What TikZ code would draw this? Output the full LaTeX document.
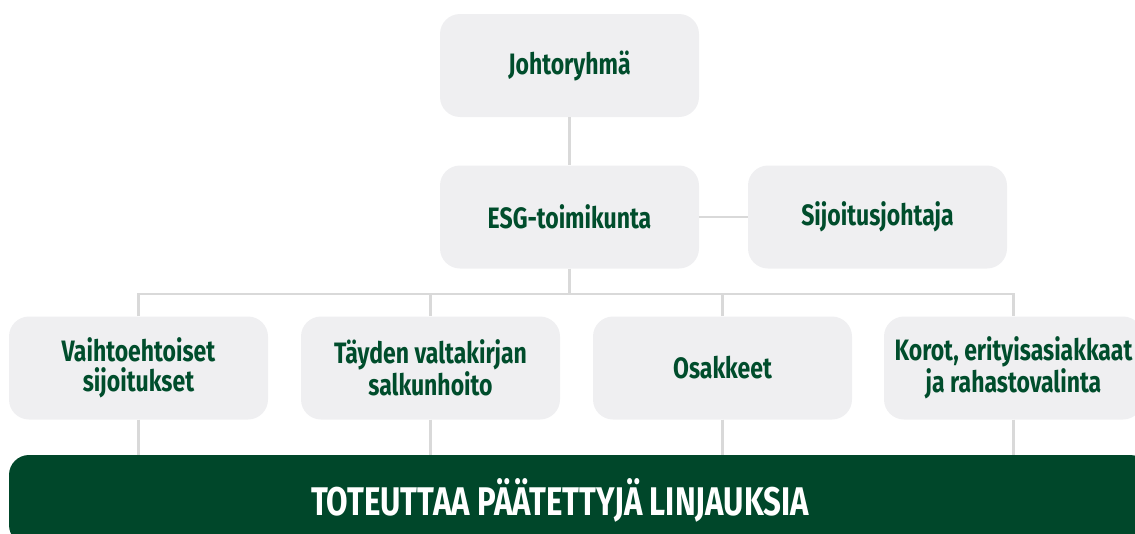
\documentclass[tikz,border=0pt]{standalone}
\usepackage{fontspec}
\setmainfont{Fira Sans}[FakeStretch=0.78]
\usetikzlibrary{calc}

\definecolor{boxgray}{HTML}{EFEFF1}
\definecolor{textgreen}{HTML}{004D2C}
\definecolor{bandgreen}{HTML}{00472A}
\definecolor{linegray}{HTML}{D9D9D9}

\tikzset{
	orgbox/.style={fill=boxgray,rounded corners=20pt,minimum width=259pt,minimum height=103pt,
		align=center,text=textgreen,font=\fontsize{29.5}{30}\selectfont\bfseries},
	link/.style={draw=linegray,line width=2.6pt}
}

\begin{document}
\begin{tikzpicture}[x=1pt,y=-1pt]
	\useasboundingbox (0,0) rectangle (1135,533);

	% green band at the bottom
	\node[fill=bandgreen,rounded corners=20pt,minimum width=1141pt,minimum height=90pt] (band) at (579.5,500) {};
	\node[text=white,font=\fontsize{40}{42}\selectfont\bfseries] (bandtext) at (560,500) {TOTEUTTAA PÄÄTETTYJÄ LINJAUKSIA};

	\node[orgbox] (johto) at (569.5,65.5) {Johtoryhmä};
	\node[orgbox] (esg) at (569.5,217) {ESG-toimikunta};
	\node[orgbox] (sij) at (877.5,217) {Sijoitusjohtaja};

	\node[orgbox] (alt) at (138.5,368) {Vaihtoehtoiset\\sijoitukset};
	\node[orgbox] (tay) at (430.5,368) {Täyden valtakirjan\\salkunhoito};
	\node[orgbox] (osa) at (722.5,368) {Osakkeet};
	\node[orgbox] (kor) at (1013.5,368) {Korot, erityisasiakkaat\\ja rahastovalinta};

	\coordinate (bus) at (569.5,294);

	\draw[link] (johto) -- (esg);
	\draw[link] (esg) -- (sij);
	\draw[link] (esg) -- (bus);
	\draw[link] (alt.north) -- (alt.north |- bus) -- (kor.north |- bus) -- (kor.north);
	\foreach \n in {tay,osa}{
		\draw[link] (\n.north) -- (\n.north |- bus);
	}
	\foreach \n in {alt,tay,osa,kor}{
		\draw[link] (\n.south) -- (\n.south |- band.north);
	}
\end{tikzpicture}
\end{document}
